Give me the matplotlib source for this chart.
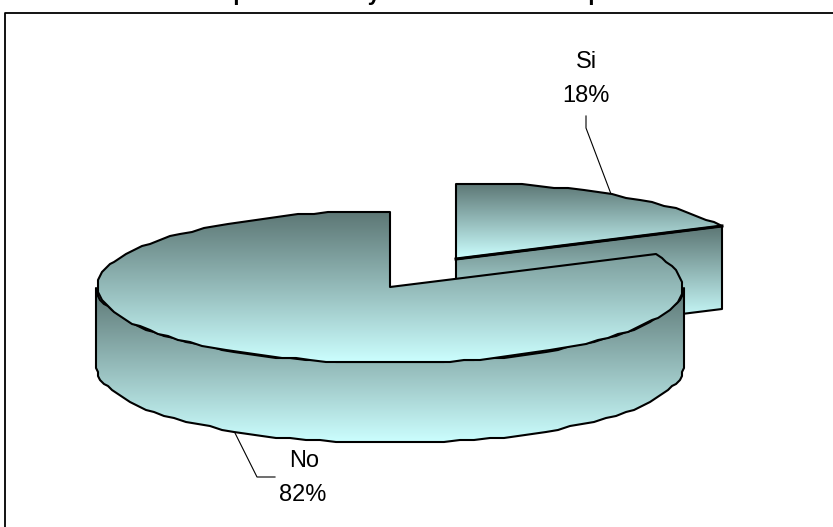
import numpy as np
import matplotlib
matplotlib.use('Agg')
import matplotlib.pyplot as plt
from matplotlib.colors import LinearSegmentedColormap
from matplotlib.patches import Polygon

plt.rcParams['font.family'] = ['Liberation Sans', 'DejaVu Sans']

labels = ['Si', 'No']
values = [18, 82]
pct_labels = ['18%', '82%']
title = 'Comportamiento y actitud sobre la empresa'

W, H = 833, 527
RX, RY = 293, 76
DEPTH = 83
CENTER_NO = (390, 287)
CENTER_SI = (456, 259)

cmap = LinearSegmentedColormap.from_list('teal', ['#5c7674', '#ccffff'])

# pie goes clockwise from 12 o'clock, Si first
cut = 90 - 360 * values[0] / sum(values)


def arc(center, a0, a1, depth=0):
    # the wobble in the original outline comes from rounding to a coarse grid
    n = max(int(abs(a1 - a0) / 3), 2)
    t = np.radians(np.linspace(a0, a1, n))
    x = center[0] + RX * np.cos(t)
    y = center[1] - RY * np.sin(t) + depth
    return np.column_stack([np.round(x / 2) * 2, np.round(y / 2) * 2])


def shape(ax, pts, y0, y1, z):
    # vertical gradient clipped to the polygon, black outline on top
    grad = np.linspace(0, 1, 256).reshape(-1, 1)
    poly = Polygon(pts, closed=True, facecolor='none', edgecolor='black', lw=1.5, zorder=z + 0.1, joinstyle='round')
    ax.add_patch(poly)
    im = ax.imshow(grad, cmap=cmap, extent=(0, W, y1, y0), aspect='auto', zorder=z, interpolation='bilinear')
    im.set_clip_path(poly)


fig = plt.figure(figsize=(W / 100, H / 100), dpi=100)
ax = fig.add_axes([0, 0, 1, 1])

# Si slice
si_tip = arc(CENTER_SI, cut, cut)[0]
si_wall = np.array([CENTER_SI, si_tip, si_tip + [0, DEPTH], np.array(CENTER_SI) + [0, DEPTH]])
shape(ax, si_wall, si_tip[1], 322, 2)
si_top = np.vstack([[CENTER_SI], arc(CENTER_SI, 90, cut)])
shape(ax, si_top, 183, 259, 3)
ax.plot([CENTER_SI[0], si_tip[0]], [CENTER_SI[1], si_tip[1]], color='black', lw=2.2, zorder=3.5)

# No slice
no_wall = np.vstack([arc(CENTER_NO, 180, 360), arc(CENTER_NO, 360, 180, DEPTH - 3)])
shape(ax, no_wall, 287, 443, 4)
no_top = np.vstack([[CENTER_NO], arc(CENTER_NO, 90, cut + 360)])
shape(ax, no_top, 211, 363, 5)

# leader lines
ax.plot([586, 586, 611], [116, 128, 194], color='black', lw=0.8, zorder=1)
ax.plot([235, 257, 275], [433, 477, 477], color='black', lw=0.8, zorder=6)

ax.text(586, 68, labels[0], ha='center', va='baseline', fontsize=17)
ax.text(586, 102, pct_labels[0], ha='center', va='baseline', fontsize=17)
ax.text(304, 467, labels[1], ha='center', va='baseline', fontsize=17)
ax.text(303, 501, pct_labels[1], ha='center', va='baseline', fontsize=17)

# title sits mostly above the picture, only the descenders show
ax.text(416, 0, title, ha='center', va='baseline', fontsize=16, fontweight='bold', clip_on=False)

# chart area border, right and bottom sides fall outside
ax.plot([5.5, 5.5, W + 5], [H + 5, 12.5, 12.5], color='black', lw=1.3, zorder=7)

ax.set_xlim(0, W)
ax.set_ylim(H, 0)
ax.axis('off')

fig.savefig('out.png', dpi=100)
